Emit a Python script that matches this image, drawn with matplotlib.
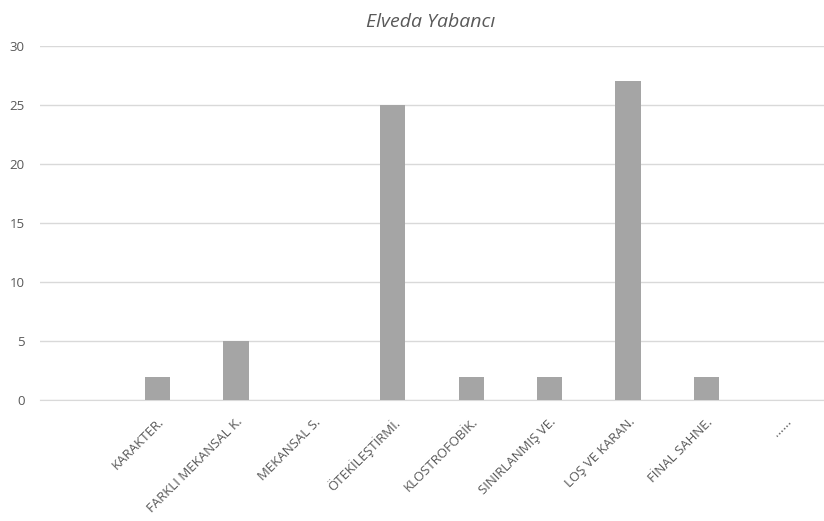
import matplotlib
matplotlib.use("Agg")
import matplotlib.pyplot as plt

categories = ["", "KARAKTER.", "FARKLI MEKANSAL K.", "MEKANSAL S.", "ÖTEKİLEŞTİRMİ.",
              "KLOSTROFOBİK.", "SINIRLANMIŞ VE.", "LOŞ VE KARAN.", "FİNAL SAHNE.", "......"]
values = [0, 2, 5, 0, 25, 2, 2, 27, 2, 0]
y_ticks = [0, 5, 10, 15, 20, 25, 30]

plt.rcParams['font.family'] = ['Open Sans', 'DejaVu Sans']
text_color = '#595959'

fig = plt.figure(figsize=(8.24, 5.21), dpi=100)
ax = fig.add_axes([0.0485, 0.232, 0.9515, 0.6797])

x = list(range(len(categories)))
ax.bar(x, values, width=0.32, color='#A5A5A5', zorder=3)

ax.set_xlim(-0.5, len(categories) - 0.5)
ax.set_ylim(0, 30)
ax.set_yticks(y_ticks)
ax.set_yticklabels([str(v) for v in y_ticks], fontsize=9.5, color=text_color)
ax.yaxis.grid(True, color='#D9D9D9', linewidth=1, zorder=0)
ax.set_xticks(x)
ax.set_xticklabels(categories, rotation=45, ha='right', rotation_mode='anchor',
                   fontsize=9.5, color=text_color)
ax.tick_params(axis='both', length=0)
ax.tick_params(axis='y', pad=11)
ax.tick_params(axis='x', pad=11)

for side in ['top', 'right', 'left']:
    ax.spines[side].set_visible(False)
ax.spines['bottom'].set_color('#D9D9D9')

fig.text(0.522, 0.957, "Elveda Yabancı", ha='center', va='center', fontsize=14,
         style='italic', color=text_color)

fig.savefig("out.png", dpi=100)
